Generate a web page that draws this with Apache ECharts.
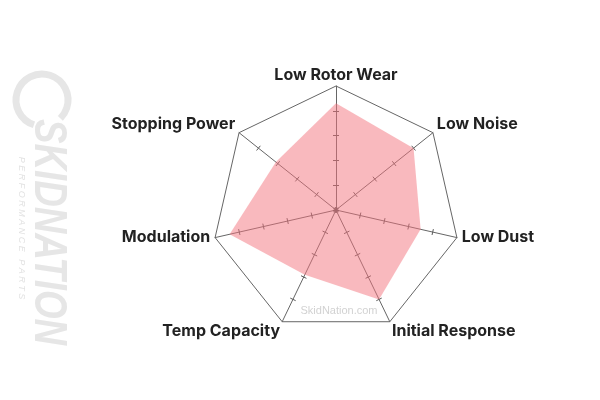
<!DOCTYPE html>
<html><head><meta charset="utf-8">
<script src="https://cdn.jsdelivr.net/npm/echarts@6/dist/echarts.min.js"></script>
<style>html,body{margin:0;padding:0;background:#fff}#c{width:600px;height:400px}</style>
</head><body><div id="c"></div>
<script>
// ---- data (clockwise from the top) ----
const categories = ['Low Rotor Wear', 'Low Noise', 'Low Dust', 'Initial Response', 'Temp Capacity', 'Modulation', 'Stopping Power'];
const ratings = [4.3, 4.0, 3.5, 4.0, 2.9, 4.4, 3.1];
const scaleMax = 5;
const tickMax = 4;          // tick marks at 1..4
const watermarkText = 'SkidNation.com';
const logoText = 'SKIDNATION';
const logoTagline = 'PERFORMANCE PARTS';

// ECharts radar runs counter-clockwise; reorder so the chart reads clockwise
const n = categories.length;
const order = categories.map((_, i) => (n - i) % n);
const indNames = order.map(i => categories[i]);
const indValues = order.map(i => ratings[i]);

const CX = 336, CY = 210, R = 124;
const FONT = 'Inter, "Open Sans", sans-serif';

function nameStyle(name) {
  const k = indNames.indexOf(name);
  const s = Math.sin(Math.PI / 2 + k * 2 * Math.PI / n);
  if (s > 0.95) return 't';
  if (s > 0.3) return 'u';
  if (s < -0.6) return 'd';
  return 's';
}
const base = { fontFamily: FONT, fontWeight: 700, fontSize: 16, color: '#222' };

const transparent = 'rgba(0,0,0,0)';
const tickRadar = (len) => ({
  center: [CX, CY], radius: R * tickMax / scaleMax, startAngle: 90, shape: 'polygon', splitNumber: tickMax,
  indicator: indNames.map(nm => ({ name: nm, min: 0, max: tickMax })),
  axisName: { show: false },
  axisLine: { show: false }, splitLine: { show: false }, splitArea: { show: false }, axisLabel: { show: false },
  axisTick: { show: true, length: len, lineStyle: { color: '#5a5a5a', width: 1 } },
  silent: true
});

const chart = echarts.init(document.getElementById('c'), null, { renderer: 'canvas' });
chart.setOption({
  animation: false,
  backgroundColor: '#fff',
  radar: [{
    center: [CX, CY], radius: R, startAngle: 90, shape: 'polygon', splitNumber: scaleMax,
    indicator: indNames.map(nm => ({ name: nm, min: 0, max: scaleMax })),
    nameGap: 5,
    axisName: {
      formatter: (v) => '{' + nameStyle(v) + '|' + v + '}',
      ...base,
      rich: {
        t: { ...base, lineHeight: 12, padding: [0, 0, 0, 0] },
        u: { ...base, padding: [0, 0, 10, 0] },
        d: { ...base, padding: [10, 0, 0, 0] },
        s: { ...base, padding: [0, 0, 3, 0] }
      }
    },
    axisLine: { lineStyle: { color: '#666', width: 1 } },
    splitLine: { lineStyle: { color: [transparent, transparent, transparent, transparent, transparent, '#666'], width: 1 } },
    splitArea: { show: false },
    axisTick: { show: false },
    axisLabel: { show: false }
  }, tickRadar(3), tickRadar(-3)],
  graphic: [
    { type: 'text', x: 339, y: 311, style: { text: watermarkText, align: 'center', verticalAlign: 'middle', fill: '#d2d2d2', font: '11px "Liberation Sans", Arial, sans-serif' }, silent: true },
    { type: 'text', x: 48, y: 232, rotation: -Math.PI / 2, scaleX: 0.8, style: { text: logoText, align: 'center', verticalAlign: 'middle', fill: '#e6e6e6', font: 'italic 900 46px "Liberation Sans", Arial, sans-serif' }, silent: true },
    { type: 'text', x: 21, y: 228, rotation: -Math.PI / 2, style: { text: logoTagline.split('').join(' '), align: 'center', verticalAlign: 'middle', fill: '#e2e2e2', font: 'italic 9px "Liberation Sans", Arial, sans-serif' }, silent: true },
    { type: 'arc', shape: { cx: 42, cy: 100, r: 26, startAngle: Math.PI * 0.6, endAngle: Math.PI * 2.25 }, style: { stroke: '#e6e6e6', lineWidth: 7, fill: null }, silent: true }
  ],
  series: [{
    type: 'radar', radarIndex: 0, symbol: 'none', silent: true,
    lineStyle: { width: 0 },
    areaStyle: { color: 'rgb(244,115,125)', opacity: 0.5 },
    data: [{ value: indValues, name: 'Rating' }]
  }]
});
</script></body></html>
